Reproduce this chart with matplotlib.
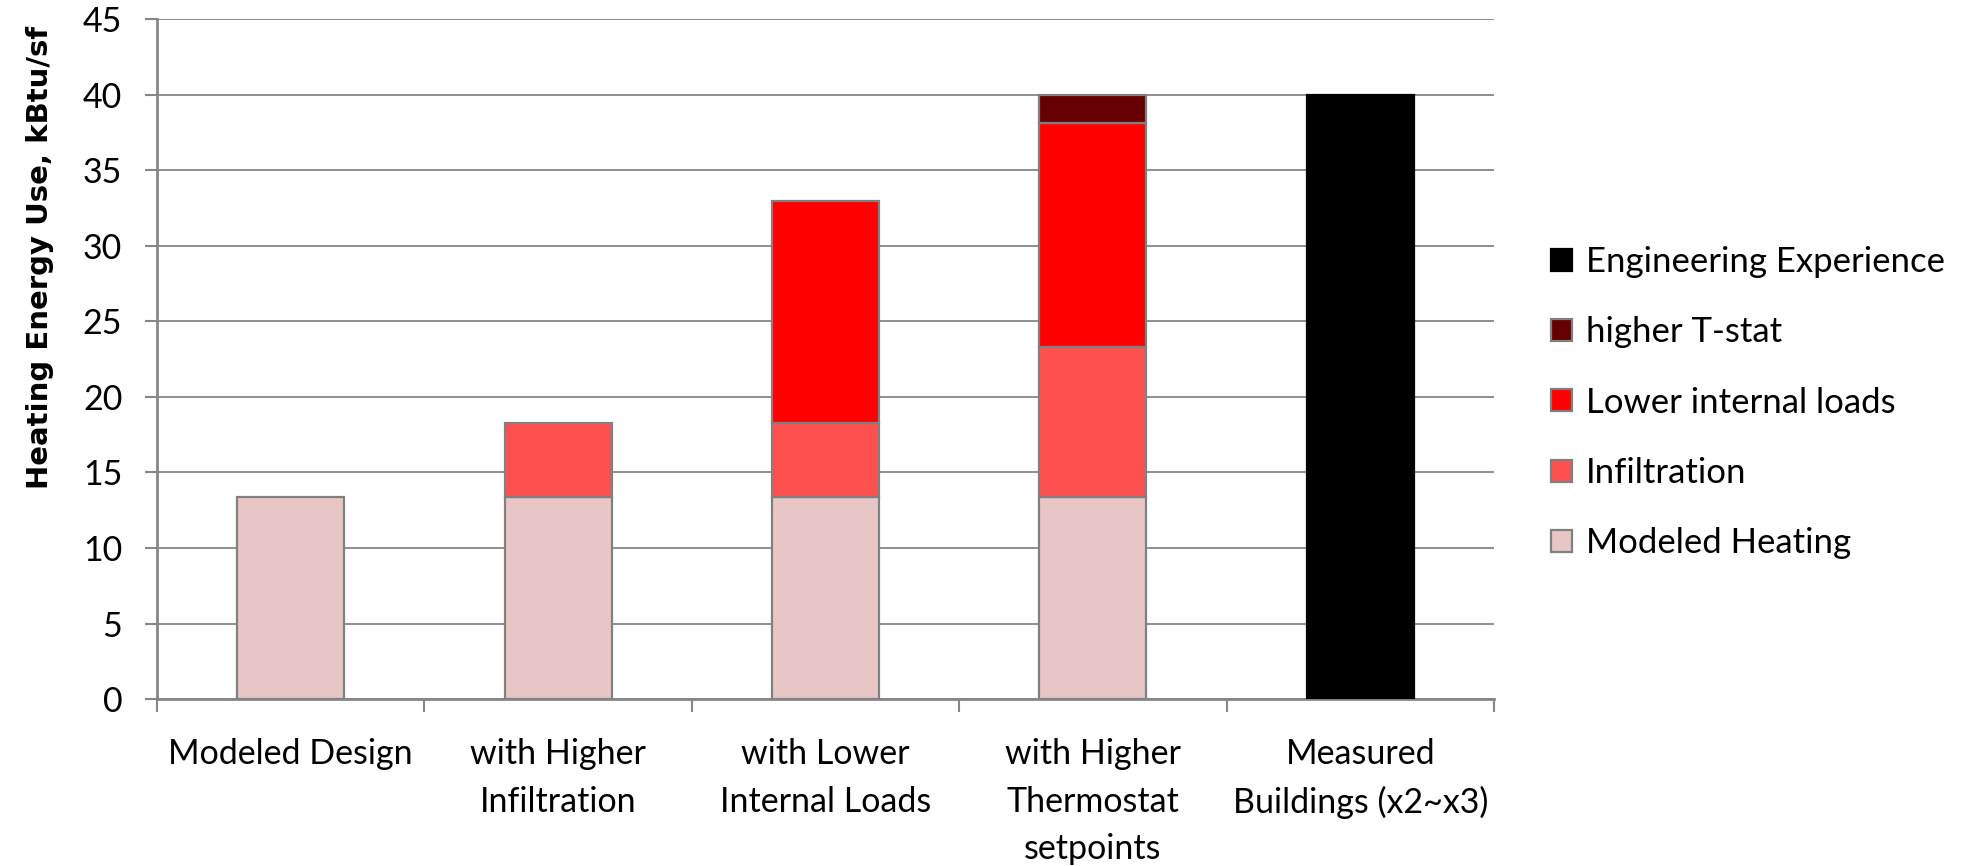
import numpy as np
import matplotlib
matplotlib.use("Agg")
import matplotlib.pyplot as plt
from matplotlib.patches import Patch

plt.rcParams['font.family'] = ['Lato', 'DejaVu Sans']

categories = ["Modeled Design", "with Higher\nInfiltration", "with Lower\nInternal Loads",
              "with Higher\nThermostat\nsetpoints", "Measured\nBuildings (x2~x3)"]
modeled_heating = [13.4, 13.4, 13.4, 13.4, 0]
infiltration = [0, 4.9, 4.9, 9.9, 0]
lower_internal = [0, 0, 14.7, 14.8, 0]
higher_tstat = [0, 0, 0, 1.9, 0]
engineering = [0, 0, 0, 0, 40]

series = [
    ("Modeled Heating", modeled_heating, "#E8C6C6", "#808080"),
    ("Infiltration", infiltration, "#FF5050", "#808080"),
    ("Lower internal loads", lower_internal, "#FF0000", "#808080"),
    ("higher T-stat", higher_tstat, "#660000", "#808080"),
    ("Engineering Experience", engineering, "#000000", "#000000"),
]

fig = plt.figure(figsize=(19.65, 8.66), dpi=100)
ax = fig.add_axes([0.0799, 0.1928, 0.6804, 0.785])

x = np.arange(len(categories))
bottom = np.zeros(len(categories))
for name, vals, fc, ec in series:
    vals = np.array(vals, dtype=float)
    mask = vals > 0
    ax.bar(x[mask], vals[mask], bottom=bottom[mask], width=0.4, color=fc,
           edgecolor=ec, linewidth=1.6, zorder=3)
    bottom += vals

ax.set_ylim(0, 45)
ax.set_yticks(np.arange(0, 46, 5))
ax.set_xlim(-0.5, 4.5)
ax.set_xticks(x)
ax.set_xticklabels(categories, fontsize=24.5, linespacing=1.6)
ax.set_xticks(np.arange(-0.5, 4.6, 1), minor=True)
ax.tick_params(axis='x', which='major', length=0, pad=28)
ax.tick_params(axis='x', which='minor', length=9, width=1.5, color="#868686")
ax.tick_params(axis='y', length=9, width=1.5, color="#868686", labelsize=24.5, pad=16)

ax.yaxis.grid(True, color="#868686", linewidth=1.3, zorder=0)
ax.set_axisbelow(True)
for s in ["top", "right"]:
    ax.spines[s].set_visible(False)
for s in ["left", "bottom"]:
    ax.spines[s].set_color("#868686")
    ax.spines[s].set_linewidth(2.0)

fig.text(0.0204, 0.703, "Heating Energy Use, kBtu/sf", rotation=90, fontsize=21,
         fontweight='bold', family=['DejaVu Sans'], ha='center', va='center')

handles = [Patch(facecolor=fc, edgecolor=("#808080" if ec != "#000000" else ec), linewidth=1.6, label=name)
           for name, vals, fc, ec in series][::-1]
fig.legend(handles=handles, loc='center left', bbox_to_anchor=(0.7736, 0.535),
           frameon=False, fontsize=25, handlelength=0.6, handleheight=0.6,
           handletextpad=0.4, labelspacing=1.1)

fig.savefig("out.png", dpi=100)
